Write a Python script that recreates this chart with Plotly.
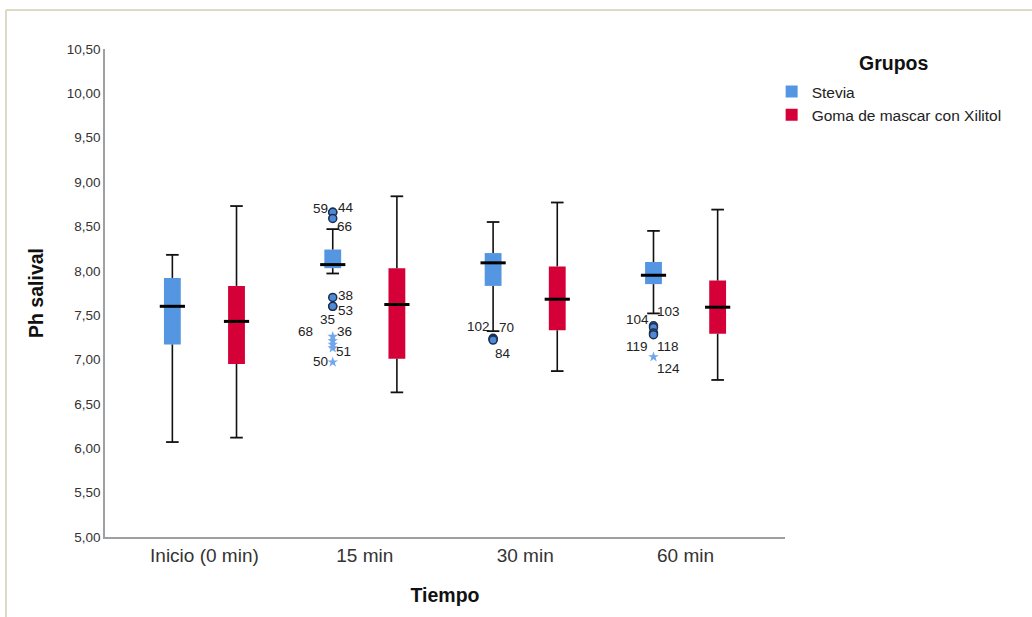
import plotly.graph_objects as go

# ---------------- data ----------------
categories = ["Inicio (0 min)", "15 min", "30 min", "60 min"]
groups = ["Stevia", "Goma de mascar con Xilitol"]

stevia_low = [6.07, 7.97, 7.32, 7.52]
stevia_q1 = [7.17, 8.03, 7.83, 7.85]
stevia_med = [7.60, 8.07, 8.09, 7.95]
stevia_q3 = [7.92, 8.24, 8.20, 8.10]
stevia_high = [8.18, 8.47, 8.55, 8.45]

xilitol_low = [6.12, 6.63, 6.87, 6.77]
xilitol_q1 = [6.95, 7.01, 7.33, 7.29]
xilitol_med = [7.43, 7.62, 7.68, 7.59]
xilitol_q3 = [7.83, 8.03, 8.05, 7.89]
xilitol_high = [8.73, 8.84, 8.77, 8.69]

# outliers (Stevia): category index, value, case label, kind
out_cat = [1, 1, 1, 1, 1, 1, 1, 1, 1, 1, 1, 2, 2, 2, 3, 3, 3, 3, 3]
out_val = [8.66, 8.66, 8.59, 7.70, 7.60, 7.60, 7.26, 7.21, 7.17, 7.13, 6.97,
           7.24, 7.23, 7.22, 7.38, 7.36, 7.30, 7.28, 7.03]
out_lab = ["59", "44", "66", "38", "53", "35", "68", "36", "", "51", "50",
           "102", "70", "84", "104", "103", "119", "118", "124"]
out_kind = ["o", "o", "o", "o", "o", "o", "*", "*", "*", "*", "*",
            "o", "o", "o", "o", "o", "o", "o", "*"]
# label offsets in pixels (styling)
lab_dx = [-12, 13, 12, 13, 13, -5, -27, 12, 0, 11, -12, -15, 13, 10, -16, 15, -16, 15, 15]
lab_dy = [4, 5, -8, 2, -4, -13, 5, 9, 0, -3, 1, 12, 12, -13, 6, 16, -14, -12, -12]

BLUE = "#5596E3"
RED = "#D50037"
OFFSET = 0.2
BOXW = 0.105
FONT = "Arial, Liberation Sans, sans-serif"

fig = go.Figure()


def add_group(name, color, off, low, q1, med, q3, high):
    xs = [i + off for i in range(len(categories))]
    fig.add_trace(go.Bar(
        x=xs, y=[b - a for a, b in zip(q1, q3)], base=q1, width=BOXW,
        marker=dict(color=color, line=dict(width=0)), name=name,
        showlegend=True, hoverinfo="skip"))
    wx, wy = [], []
    for x, l, a, b, h in zip(xs, low, q1, q3, high):
        wx += [x, x, None, x, x, None]
        wy += [b, h, None, a, l, None]
    fig.add_trace(go.Scatter(x=wx, y=wy, mode="lines",
                             line=dict(color="#111111", width=1.6),
                             showlegend=False, hoverinfo="skip"))
    fig.add_trace(go.Scatter(x=xs + xs, y=low + high, mode="markers",
                             marker=dict(symbol="line-ew", size=9,
                                         line=dict(color="#111111", width=1.8)),
                             showlegend=False, hoverinfo="skip"))
    fig.add_trace(go.Scatter(x=xs, y=med, mode="markers",
                             marker=dict(symbol="line-ew", size=18,
                                         line=dict(color="#000000", width=3)),
                             showlegend=False, hoverinfo="skip"))


add_group(groups[0], BLUE, -OFFSET, stevia_low, stevia_q1, stevia_med, stevia_q3, stevia_high)
add_group(groups[1], RED, OFFSET, xilitol_low, xilitol_q1, xilitol_med, xilitol_q3, xilitol_high)

cx = [c - OFFSET for c, k in zip(out_cat, out_kind) if k == "o"]
cy = [v for v, k in zip(out_val, out_kind) if k == "o"]
sx = [c - OFFSET for c, k in zip(out_cat, out_kind) if k == "*"]
sy = [v for v, k in zip(out_val, out_kind) if k == "*"]
fig.add_trace(go.Scatter(x=cx, y=cy, mode="markers",
                         marker=dict(symbol="circle", size=8, color="#4E8AD6",
                                     line=dict(color="#1C2F4F", width=1.5)),
                         showlegend=False, hoverinfo="skip"))
fig.add_trace(go.Scatter(x=sx, y=sy, mode="markers",
                         marker=dict(symbol="star", size=8, color="#6FA6EC",
                                     line=dict(width=0)),
                         showlegend=False, hoverinfo="skip"))

for c, v, t, dx, dy in zip(out_cat, out_val, out_lab, lab_dx, lab_dy):
    if t:
        fig.add_annotation(x=c - OFFSET, y=v, text=t, showarrow=False,
                           xshift=dx, yshift=dy,
                           font=dict(family=FONT, size=13.5, color="#222222"))

# legend title as annotation
fig.add_annotation(x=(893 - 105) / 680, y=(537 - 63) / 488, xref="paper", yref="paper",
                   xanchor="center", yanchor="middle",
                   text="<b>Grupos</b>", showarrow=False,
                   font=dict(family=FONT, size=19.5, color="#111111"))

# outer frame
fig.add_shape(type="line", xref="paper", yref="paper",
              x0=(6 - 105) / 680, x1=(1040 - 105) / 680,
              y0=(537 - 10) / 488, y1=(537 - 10) / 488,
              line=dict(color="#DDD9C3", width=2))
fig.add_shape(type="line", xref="paper", yref="paper",
              x0=(6 - 105) / 680, x1=(6 - 105) / 680,
              y0=(537 - 10) / 488, y1=(537 - 625) / 488,
              line=dict(color="#DDD9C3", width=2))

fig.update_layout(
    width=1032, height=617,
    margin=dict(l=105, r=247, t=49, b=80),
    paper_bgcolor="white", plot_bgcolor="white",
    barmode="overlay",
    separators=",.",
    font=dict(family=FONT, color="#333333"),
    showlegend=True,
    legend=dict(
        x=(790 - 105) / 680 - 0.027, xanchor="left",
        y=(537 - 75) / 488, yanchor="top",
        itemwidth=30,
        font=dict(family=FONT, size=15.5, color="#222222"),
        bgcolor="rgba(0,0,0,0)",
    ),
    xaxis=dict(
        range=[-0.62, 3.62], tickmode="array",
        tickvals=list(range(len(categories))), ticktext=categories,
        showline=True, linecolor="#A0A0A0", linewidth=1.5,
        showgrid=False, zeroline=False, ticks="",
        tickfont=dict(family=FONT, size=19, color="#333333"),
        title=dict(text="<b>Tiempo</b>", standoff=24,
                   font=dict(family=FONT, size=19.5, color="#111111")),
    ),
    yaxis=dict(
        range=[5, 10.5], tickmode="linear", tick0=5, dtick=0.5,
        tickformat=".2f",
        showline=True, linecolor="#A0A0A0", linewidth=1.5,
        showgrid=False, zeroline=False, ticks="",
        tickfont=dict(family=FONT, size=13.5, color="#333333"),
        title=dict(text="<b>Ph salival</b>", standoff=18,
                   font=dict(family=FONT, size=19.5, color="#111111")),
    ),
)

fig.write_html("out.html", config={"displayModeBar": False},
               post_script="document.body.style.margin='0';")
